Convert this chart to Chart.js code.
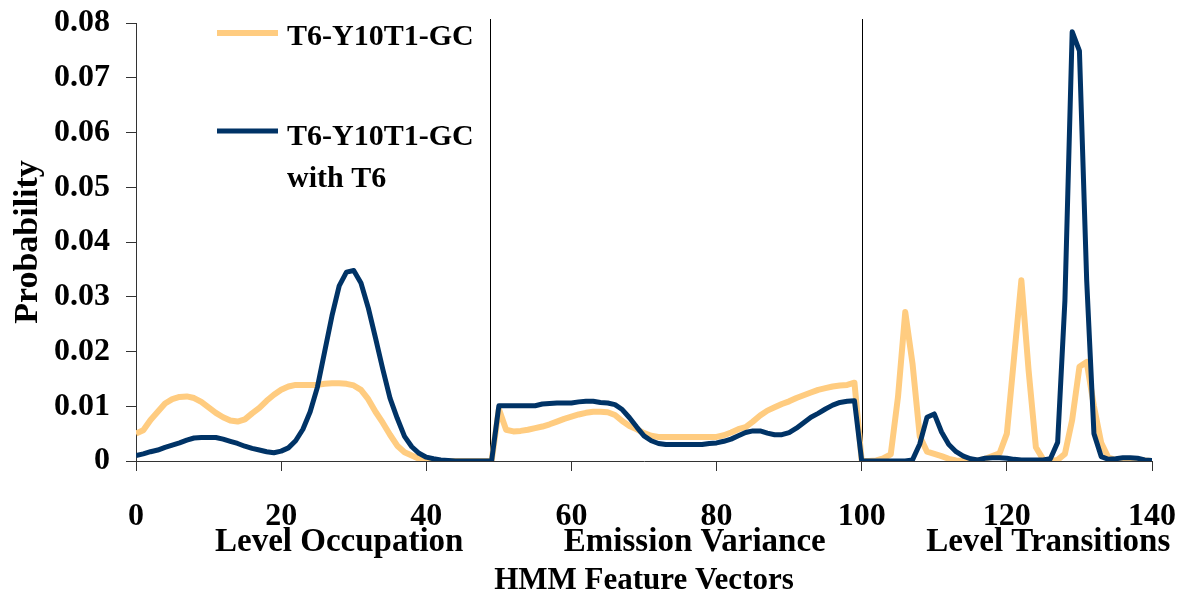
<!DOCTYPE html>
<html>
<head>
<meta charset="utf-8">
<script src="https://cdn.jsdelivr.net/npm/chart.js@4/dist/chart.umd.min.js"></script>
<style>
  body { margin: 0; background: #fff; }
  canvas { display: block; }
</style>
</head>
<body>
<canvas id="graficoHMM" width="1182" height="597"></canvas>
<script>
// Eixo X: vetores de características (0..140), divididos em três blocos
const xMin = 0;
const xMax = 140;
const xTicksStep = 20;
const yTicks = [0, 0.01, 0.02, 0.03, 0.04, 0.05, 0.06, 0.07, 0.08];

// Nomes dos blocos e onde ficam (valor de x do centro do texto)
const sections = ['Level Occupation', 'Emission Variance', 'Level Transitions'];
const sectionCentres = [28, 77, 125.7];
const dividers = [48.8, 100];

const serieLaranja = 'T6-Y10T1-GC';
const serieAzul = ['T6-Y10T1-GC', 'with T6'];

// Série laranja (T6-Y10T1-GC)
const orangeOccupation = [
  0.0050, 0.0056, 0.0075, 0.0090, 0.0105, 0.0113, 0.0117, 0.0118, 0.0115, 0.0108,
  0.0098, 0.0088, 0.0080, 0.0074, 0.0072, 0.0076, 0.0087, 0.0097, 0.0110, 0.0121,
  0.0130, 0.0136, 0.0139, 0.0139, 0.0139, 0.0139, 0.0141, 0.0142, 0.0142, 0.0141,
  0.0138, 0.0130, 0.0113, 0.0090, 0.0070, 0.0048, 0.0028, 0.0016, 0.0010, 0.0004,
  0.0001, 0, 0, 0, 0, 0, 0, 0, 0, 0
];
const orangeVariance = [
  0.0095, 0.0057, 0.0054, 0.0055, 0.0057, 0.0060, 0.0063, 0.0067, 0.0072, 0.0077,
  0.0081, 0.0085, 0.0088, 0.0090, 0.0090, 0.0089, 0.0084, 0.0073, 0.0064, 0.0058,
  0.0051, 0.0046, 0.0044, 0.0044, 0.0044, 0.0044, 0.0044, 0.0044, 0.0044, 0.0044,
  0.0044, 0.0047, 0.0052, 0.0058, 0.0062, 0.0072, 0.0083, 0.0092, 0.0098, 0.0104,
  0.0109, 0.0115, 0.0120, 0.0125, 0.0130, 0.0133, 0.0136, 0.0138, 0.0139, 0.0143
];
const orangeTransitions = [
  0, 0, 0.0001, 0.0005, 0.0012, 0.0117, 0.0272, 0.0178, 0.0045, 0.0017,
  0.0013, 0.0009, 0.0004, 0.0001, 0, 0, 0.0001, 0.0004, 0.0009, 0.0014,
  0.0050, 0.0190, 0.0330, 0.0165, 0.0025, 0.0003, 0, 0.0002, 0.0013, 0.0075,
  0.0172, 0.0181, 0.0100, 0.0033, 0.0006, 0.0002, 0.0002, 0.0002, 0.0002, 0.0001,
  0
];

// Série azul (T6-Y10T1-GC with T6)
const blueOccupation = [
  0.0010, 0.0013, 0.0017, 0.0020, 0.0025, 0.0029, 0.0033, 0.0038, 0.0042, 0.0043,
  0.0043, 0.0043, 0.0040, 0.0036, 0.0032, 0.0027, 0.0023, 0.0020, 0.0017, 0.0015,
  0.0018, 0.0024, 0.0037, 0.0058, 0.0090, 0.0135, 0.0200, 0.0265, 0.0320, 0.0345,
  0.0348, 0.0325, 0.0280, 0.0225, 0.0168, 0.0115, 0.0078, 0.0045, 0.0026, 0.0014,
  0.0007, 0.0004, 0.0002, 0.0001, 0, 0, 0, 0, 0, 0
];
const blueVariance = [
  0.0101, 0.0101, 0.0101, 0.0101, 0.0101, 0.0101, 0.0104, 0.0105, 0.0106, 0.0106,
  0.0106, 0.0108, 0.0109, 0.0109, 0.0107, 0.0106, 0.0103, 0.0094, 0.0079, 0.0062,
  0.0046, 0.0037, 0.0032, 0.0030, 0.0030, 0.0030, 0.0030, 0.0030, 0.0030, 0.0032,
  0.0033, 0.0036, 0.0040, 0.0046, 0.0052, 0.0055, 0.0055, 0.0051, 0.0048, 0.0048,
  0.0052, 0.0060, 0.0070, 0.0080, 0.0087, 0.0095, 0.0102, 0.0107, 0.0109, 0.0110
];
const blueTransitions = [
  0, 0, 0, 0, 0, 0, 0, 0.0002, 0.0031, 0.0080,
  0.0086, 0.0053, 0.0030, 0.0017, 0.0009, 0.0004, 0.0002, 0.0005, 0.0006, 0.0006,
  0.0005, 0.0003, 0.0002, 0.0002, 0.0002, 0.0002, 0.0004, 0.0034, 0.0293, 0.0784,
  0.0749, 0.0330, 0.0050, 0.0008, 0.0003, 0.0004, 0.0006, 0.0006, 0.0005, 0.0002,
  0.0001
];

const COR_LARANJA = '#FFCC80';
const COR_AZUL = '#003366';
const FONTE = '"Liberation Serif", "Times New Roman", serif';

// Junta os três blocos e põe o índice do vetor como x
function pontos(...blocos) {
  return [].concat(...blocos).map((v, i) => ({ x: i, y: v }));
}

// Desenha divisórias, nomes dos blocos, títulos dos eixos e a legenda
const extras = {
  id: 'extras',
  beforeDatasetsDraw(chart) {
    const { ctx, chartArea, scales: { x } } = chart;
    ctx.save();
    ctx.strokeStyle = '#000';
    ctx.lineWidth = 1;
    dividers.forEach(v => {
      const px = Math.round(x.getPixelForValue(v)) + 0.5;
      ctx.beginPath();
      ctx.moveTo(px, chartArea.top - 4);
      ctx.lineTo(px, chartArea.bottom);
      ctx.stroke();
    });
    ctx.restore();
  },
  afterDraw(chart) {
    const { ctx, chartArea, scales: { x } } = chart;
    ctx.save();
    ctx.fillStyle = '#000';

    // nomes dos blocos
    ctx.font = 'bold 33px ' + FONTE;
    ctx.textAlign = 'center';
    ctx.textBaseline = 'alphabetic';
    sections.forEach((s, i) => {
      ctx.fillText(s, x.getPixelForValue(sectionCentres[i]), chartArea.bottom + 90);
    });

    // título do eixo X
    ctx.font = 'bold 31px ' + FONTE;
    ctx.fillText('HMM Feature Vectors', (chartArea.left + chartArea.right) / 2, chartArea.bottom + 128);

    // título do eixo Y
    ctx.save();
    ctx.translate(28, (chartArea.top + chartArea.bottom) / 2);
    ctx.rotate(-Math.PI / 2);
    ctx.font = 'bold 34px ' + FONTE;
    ctx.textBaseline = 'middle';
    ctx.fillText('Probability', 0, 0);
    ctx.restore();

    // legenda
    const lx = chartArea.left + 81;
    ctx.lineWidth = 6;
    ctx.strokeStyle = COR_LARANJA;
    ctx.beginPath();
    ctx.moveTo(lx, chartArea.top + 10);
    ctx.lineTo(lx + 61, chartArea.top + 10);
    ctx.stroke();
    ctx.lineWidth = 5;
    ctx.strokeStyle = COR_AZUL;
    ctx.beginPath();
    ctx.moveTo(lx, chartArea.top + 108);
    ctx.lineTo(lx + 61, chartArea.top + 108);
    ctx.stroke();

    ctx.font = 'bold 30px ' + FONTE;
    ctx.textAlign = 'left';
    ctx.fillText(serieLaranja, lx + 70, chartArea.top + 22);
    ctx.fillText(serieAzul[0], lx + 70, chartArea.top + 122);
    ctx.fillText(serieAzul[1], lx + 70, chartArea.top + 164);
    ctx.restore();
  }
};

const ctx = document.getElementById('graficoHMM').getContext('2d');

new Chart(ctx, {
  type: 'line',
  data: {
    datasets: [
      {
        label: serieAzul.join(' '),
        data: pontos(blueOccupation, blueVariance, blueTransitions),
        borderColor: COR_AZUL,
        borderWidth: 5,
        pointRadius: 0,
        tension: 0,
        borderJoinStyle: 'round',
        order: 0 // azul por cima
      },
      {
        label: serieLaranja,
        data: pontos(orangeOccupation, orangeVariance, orangeTransitions),
        borderColor: COR_LARANJA,
        borderWidth: 6,
        pointRadius: 0,
        tension: 0,
        borderJoinStyle: 'round',
        order: 1
      }
    ]
  },
  options: {
    responsive: false,
    animation: false,
    layout: { padding: { left: 0, right: 30, top: 23, bottom: 0 } },
    plugins: {
      legend: { display: false },
      tooltip: { enabled: false }
    },
    scales: {
      x: {
        type: 'linear',
        min: xMin,
        max: xMax,
        // altura fixa e sem folga extra dos rótulos nas pontas
        afterFit: s => { s.height = 136; s.paddingLeft = 0; s.paddingRight = 0; },
        grid: { drawOnChartArea: false, tickLength: 10, color: '#333' },
        border: { color: '#333', width: 1 },
        ticks: {
          stepSize: xTicksStep,
          maxRotation: 0,
          padding: 27,
          color: '#000',
          font: { family: FONTE, size: 32, weight: 'bold' }
        }
      },
      y: {
        min: yTicks[0],
        max: yTicks[yTicks.length - 1],
        afterFit: s => { s.width = 136; s.paddingTop = 0; s.paddingBottom = 0; },
        afterBuildTicks: s => { s.ticks = yTicks.map(v => ({ value: v })); },
        grid: { drawOnChartArea: false, tickLength: 10, color: '#333' },
        border: { color: '#333', width: 1 },
        ticks: {
          padding: 16,
          color: '#000',
          font: { family: FONTE, size: 32, weight: 'bold' },
          callback: v => (v === 0 ? '0' : v.toFixed(2))
        }
      }
    }
  },
  plugins: [extras]
});
</script>
</body>
</html>
